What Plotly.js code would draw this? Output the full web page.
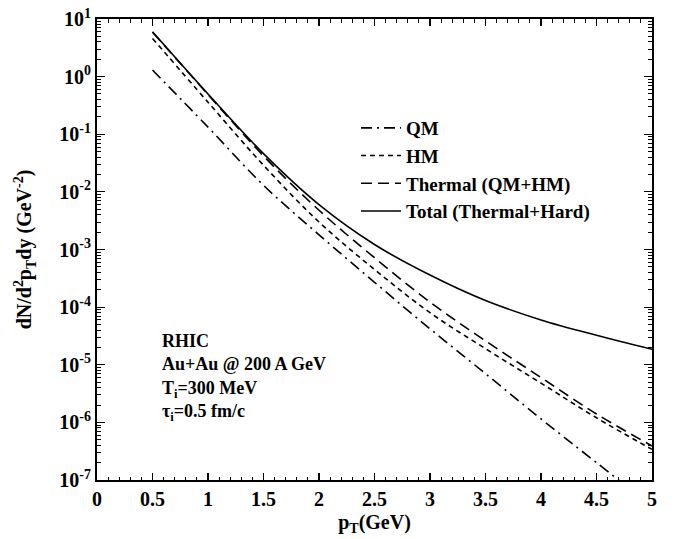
<!DOCTYPE html>
<html>
<head>
<meta charset="utf-8">
<script src="https://cdn.plot.ly/plotly-3.0.1.min.js"></script>
<style>html,body{margin:0;padding:0;background:#fff;}#chart{width:678px;height:539px;}</style>
</head>
<body>
<div id="chart"></div>
<script>
// Data
const pT = [0.5, 1.0, 1.5, 2.0, 2.5, 3.0, 3.5, 4.0, 4.5, 5.0];
const QM = [1.3, 0.133, 0.013, 1.8e-3, 2.7e-4, 4.2e-5, 7.0e-6, 1.15e-6, 2.0e-7, 3.5e-8];
const HM = [4.6, 0.36, 0.029, 3.0e-3, 4.5e-4, 8.0e-5, 1.9e-5, 4.8e-6, 1.2e-6, 3.4e-7];
const Thermal = [5.9, 0.49, 0.042, 4.8e-3, 7.2e-4, 1.22e-4, 2.6e-5, 6.0e-6, 1.4e-6, 3.9e-7];
const Total = [6.0, 0.5, 0.046, 6.0e-3, 1.22e-3, 3.6e-4, 1.3e-4, 6.0e-5, 3.25e-5, 1.86e-5];

const seriesNames = ["QM", "HM", "Thermal (QM+HM)", "Total (Thermal+Hard)"];
const yTickVals = [1e1, 1e0, 1e-1, 1e-2, 1e-3, 1e-4, 1e-5, 1e-6, 1e-7];
const yTickText = ["10<sup>1</sup>", "10<sup>0</sup>", "10<sup>-1</sup>", "10<sup>-2</sup>", "10<sup>-3</sup>",
                   "10<sup>-4</sup>", "10<sup>-5</sup>", "10<sup>-6</sup>", "10<sup>-7</sup>"];
const xTickVals = [0, 0.5, 1, 1.5, 2, 2.5, 3, 3.5, 4, 4.5, 5];
const xTickText = ["0", "0.5", "1", "1.5", "2", "2.5", "3", "3.5", "4", "4.5", "5"];
const infoLines = ["RHIC", "Au+Au @ 200 A GeV", "T<sub>i</sub>=300 MeV", "τ<sub>i</sub>=0.5 fm/c"];

const FONT = "Liberation Serif, Times New Roman, serif";
const lineW = 1.6;
const FS = 20;

const traces = [
  {x: pT, y: QM, name: seriesNames[0], mode: "lines", line: {color: "#000", width: lineW, dash: "11px,5px,2px,5px", shape: "spline"}},
  {x: pT, y: HM, name: seriesNames[1], mode: "lines", line: {color: "#000", width: lineW, dash: "5px,4px", shape: "spline"}},
  {x: pT, y: Thermal, name: seriesNames[2], mode: "lines", line: {color: "#000", width: lineW, dash: "11px,6px", shape: "spline"}},
  {x: pT, y: Total, name: seriesNames[3], mode: "lines", line: {color: "#000", width: lineW, shape: "spline"}}
];

const annotations = [{
  xref: "paper", yref: "paper", x: (160 - 97) / 555, y: 1 - (377 - 19) / 461,
  xanchor: "left", yanchor: "middle", showarrow: false, align: "left",
  text: infoLines.join("<br>"), font: {family: FONT, size: 18, color: "#000", weight: "bold"}
}];

const layout = {
  width: 678, height: 539,
  margin: {l: 97, r: 26, t: 19, b: 59},
  paper_bgcolor: "#fff", plot_bgcolor: "#fff",
  showlegend: true,
  legend: {
    x: (356 - 97) / 555, y: 1 - (109 - 19) / 461, xanchor: "left", yanchor: "top",
    bgcolor: "rgba(0,0,0,0)", borderwidth: 0, tracegroupgap: 0, itemwidth: 40,
    font: {family: FONT, size: 19, color: "#000", weight: "bold"}
  },
  xaxis: {
    range: [0, 5], tickvals: xTickVals, ticktext: xTickText,
    ticks: "inside", ticklen: 7, tickwidth: 1.2, tickcolor: "#000",
    minor: {dtick: 0.1, ticks: "inside", ticklen: 3.5, tickwidth: 1, tickcolor: "#000"},
    showline: true, linecolor: "#000", linewidth: 2, mirror: "ticks",
    showgrid: false, zeroline: false,
    tickfont: {family: FONT, size: FS, color: "#000", weight: "bold"},
    title: {text: "p<sub>T</sub>(GeV)", standoff: 6, font: {family: FONT, size: FS, color: "#000", weight: "bold"}}
  },
  yaxis: {
    type: "log", range: [-7, 1], tickvals: yTickVals, ticktext: yTickText,
    ticks: "inside", ticklen: 8, tickwidth: 1.2, tickcolor: "#000",
    minor: {dtick: "D1", ticks: "inside", ticklen: 4, tickwidth: 1, tickcolor: "#000"},
    showline: true, linecolor: "#000", linewidth: 2, mirror: "ticks",
    showgrid: false, zeroline: false,
    tickfont: {family: FONT, size: FS, color: "#000", weight: "bold"},
    title: {text: "dN/d<sup>2</sup>p<sub>T</sub>dy (GeV<sup>-2</sup>)", standoff: 22, font: {family: FONT, size: FS, color: "#000", weight: "bold"}}
  },
  annotations: annotations
};

Plotly.newPlot("chart", traces, layout, {displayModeBar: false, staticPlot: true});
</script>
</body>
</html>
